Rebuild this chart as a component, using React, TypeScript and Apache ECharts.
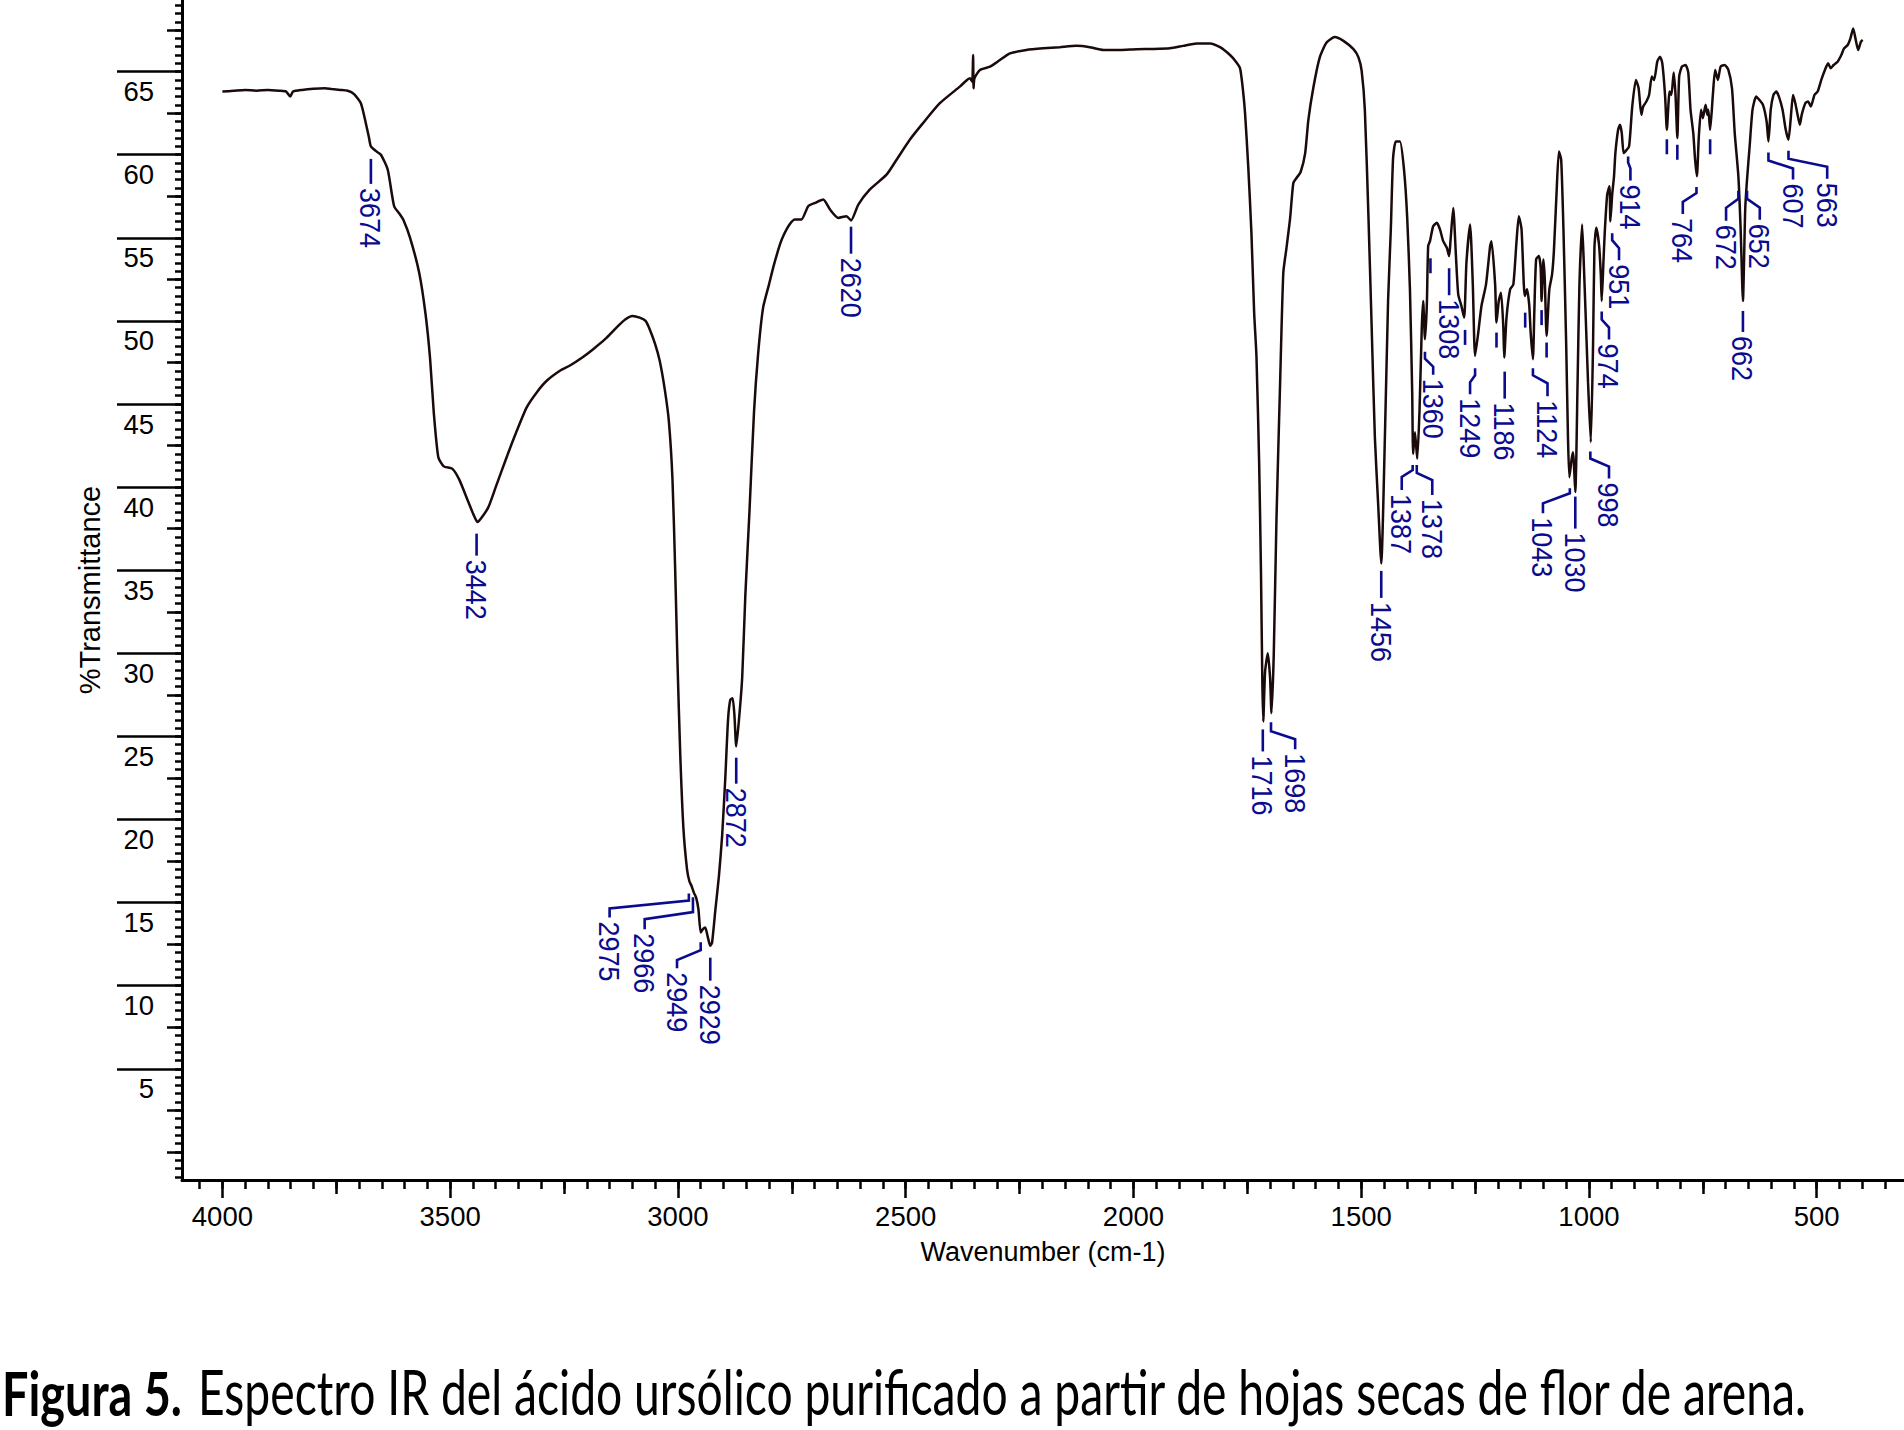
import React, { useEffect, useRef } from 'react';
import * as echarts from 'echarts';

// ---------- spectrum data (wavenumber cm-1, %T) ----------
const spectrumHigh: [number, number][] = [
  [4000,63.8],[3975,63.85],[3950,63.9],[3925,63.85],[3900,63.9],[3875,63.85],[3860,63.8],[3851,63.5],[3845,63.8],[3825,63.9],[3800,63.97],[3775,64.0],[3760,63.95],[3741,63.9],[3725,63.85],[3711,63.65],[3696,63.1],[3686,62.0],[3678,61.0],[3674,60.5],[3662,60.2],[3652,60.0],[3637,59.1],[3623,56.9],[3610,56.4],[3603,56.1],[3588,55.0],[3568,52.9],[3554,50.4],[3544,47.7],[3536,44.5],[3526,41.8],[3514,41.25],[3495,41.1],[3480,40.45],[3460,39.1],[3448,38.3],[3440,37.9],[3430,38.2],[3416,38.8],[3400,40.0],[3376,41.8],[3355,43.3],[3332,44.8],[3310,45.7],[3288,46.4],[3259,47.0],[3238,47.3],[3210,47.8],[3186,48.3],[3160,48.9],[3135,49.6],[3115,50.1],[3100,50.3],[3084,50.2],[3071,50.0],[3062,49.5],[3050,48.6],[3040,47.6],[3029,45.9],[3020,44.0],[3012,40.5],[3006,35.0],[3001,29.5],[2995,24.0],[2988,19.5],[2980,17.0],[2975,16.3],[2970,16.0],[2965,15.6],[2960,15.3],[2955,14.6],[2950,13.2],[2945,13.4],[2940,13.5],[2935,13.0],[2929,12.4],[2925,12.6],[2918,14.5],[2910,16.6],[2903,19.0],[2896,22.5],[2890,26.0],[2885,27.2],[2880,27.3],[2876,26.3],[2872,24.4],[2866,26.0],[2859,28.5],[2852,33.5],[2843,38.5],[2833,44.5],[2824,48.0],[2813,50.8],[2800,52.2],[2790,53.3],[2776,54.6],[2769,55.1],[2755,55.8],[2743,56.1],[2729,56.1],[2714,56.9],[2699,57.1],[2681,57.3],[2666,56.7],[2648,56.2],[2630,56.3],[2620,56.05],[2604,57.0],[2579,57.9],[2542,58.8],[2520,59.7],[2491,60.9],[2462,61.9],[2425,63.1],[2381,64.1],[2359,64.6],[2354,64.4],[2352,66.0],[2351,64.0],[2349,64.6],[2337,65.1],[2315,65.3],[2293,65.7],[2271,66.1],[2235,66.3],[2198,66.4],[2162,66.47],[2125,66.55],[2096,66.47],[2066,66.3],[2030,66.3]
];
const spectrumMid: [number, number][] = [
  [1993,66.35],[1957,66.36],[1920,66.4],[1891,66.55],[1861,66.7],[1832,66.7],[1810,66.47],[1788,66.0],[1775,65.6],[1766,65.2],[1760,64.0],[1755,62.5],[1748,59.3],[1741,55.3],[1735,50.5],[1730,47.9],[1724,41.4],[1720,34.8],[1717,28.2],[1715,25.9],[1711,28.9],[1705,30.0],[1700,28.5],[1697,26.4],[1692,29.9],[1686,38.1],[1678,46.3],[1671,52.9],[1664,54.4],[1656,56.2],[1649,58.3],[1642,58.6],[1633,58.96],[1623,60.1],[1616,62.1],[1605,64.05],[1591,65.86],[1576,66.75],[1558,67.08],[1539,66.85],[1517,66.35],[1506,65.86],[1499,65.04],[1492,62.7],[1484,56.2],[1477,49.6],[1470,43.0],[1463,39.1],[1456,35.4],[1448,43.0],[1441,51.2],[1435,55.5],[1430,59.8],[1424,60.8],[1415,60.8],[1406,59.1],[1399,56.2],[1393,51.9],[1388,45.6],[1386,42.0],[1382,43.3],[1377,41.7],[1372,44.6],[1367,49.6],[1364,51.2],[1360,48.9],[1356,50.9],[1353,54.5],[1349,54.8],[1342,55.7],[1334,55.9],[1327,55.5],[1320,54.8],[1312,54.4],[1307,53.9],[1304,54.8],[1298,56.8],[1292,53.9],[1287,51.6],[1280,50.9],[1274,50.2],[1269,53.5],[1261,55.8],[1255,52.2],[1250,47.9],[1243,49.3],[1236,50.9],[1226,52.2],[1217,54.5],[1214,54.8],[1206,52.2],[1203,49.9],[1198,51.2],[1193,51.7],[1188,49.6],[1186,47.8],[1181,50.2],[1173,51.9],[1166,52.2],[1159,54.8],[1154,56.3],[1148,55.5],[1141,51.5],[1136,51.9],[1131,50.9],[1128,49.3],[1123,47.7],[1120,50.5],[1116,53.7],[1110,53.9],[1106,53.2],[1104,51.2],[1100,53.7],[1097,52.5],[1093,49.1],[1087,51.9],[1081,52.8],[1077,54.2],[1071,57.8],[1066,60.2],[1061,59.7],[1056,55.5],[1050,48.6],[1046,42.9],[1043,40.6],[1038,41.7],[1035,42.1],[1030,39.7],[1025,46.3],[1021,52.1],[1015,55.8],[1011,53.2],[1005,48.6],[1002,46.3]
];
const spectrumLow: [number, number][] = [
  [996,42.7],[991,48.6],[988,54.4],[984,55.6],[978,54.6],[974,52.8],[972,51.2],[968,53.7],[965,55.5],[960,57.6],[955,58.1],[953,56.0],[949,57.6],[945,58.7],[942,60.1],[936,61.5],[932,61.8],[928,61.3],[924,60.1],[920,60.2],[912,60.5],[905,62.9],[897,64.5],[891,64.0],[885,62.4],[881,62.9],[874,63.2],[868,63.6],[862,64.7],[857,64.5],[850,65.6],[844,65.9],[839,65.5],[833,63.6],[829,61.5],[823,63.8],[819,63.6],[814,64.95],[810,63.6],[806,61.0],[802,64.7],[796,65.3],[788,65.4],[782,64.95],[777,62.7],[771,61.3],[767,59.7],[763,58.7],[759,61.0],[754,62.7],[750,62.2],[744,63.0],[740,62.4],[738,62.7],[734,61.5],[728,63.6],[723,65.1],[717,64.5],[711,65.3],[702,65.4],[694,65.1],[686,64.0],[680,61.3],[672,58.7],[667,55.5],[662,51.2],[657,56.7],[653,58.5],[647,60.6],[641,62.7],[633,63.5],[626,63.3],[618,63.0],[610,62.0],[606,60.8],[601,62.7],[595,63.6],[589,63.8],[583,63.5],[575,62.7],[568,61.5],[562,60.9],[557,62.2],[552,63.6],[547,63.1],[542,62.4],[537,61.8],[533,62.4],[525,63.1],[519,63.2],[513,62.9],[505,63.6],[498,63.8],[490,64.5],[482,65.1],[475,65.5],[469,65.2],[463,65.4],[454,65.6],[446,66.0],[440,66.4],[432,66.6],[426,67.0],[420,67.6],[415,67.0],[409,66.3],[403,66.8],[399,66.9]
];

// ---------- peak annotations ----------
const peakLabels = ['3674','3442','2975','2966','2949','2929','2872','2620','1716','1698','1456','1387','1378','1360','1308','1249','1186','1124','1043','1030','998','974','951','914','764','672','652','662','607','563'];
const peakWavenumbers = [3674,3442,2976,2967,2950,2929,2872,2620,1716,1698,1456,1387,1378,1360,1307,1250,1185,1123,1042,1030,997,972,949,914,764,672,653,662,606,562];
const peakTransmittance = [59.75,37.2,15.55,15.33,12.62,11.69,23.72,55.67,25.42,25.85,34.96,41.33,41.33,48.15,53.17,47.15,46.95,47.15,39.93,39.43,42.14,50.56,55.28,59.9,58.06,57.83,57.83,50.6,60.13,60.24];
// label column (wavenumber where the label text is written)
const labelColumns = [3674,3442,3150,3073,3002,2929,2872,2620,1716,1645,1456,1411,1344,1342,1307,1261,1185,1091,1101,1030,956,956,934,909,794,699,625,662,552,477];
// leader shape: first drop, elbow drop, last drop (px)
const leaderShapes = [[0,0,25],[0,0,22],[7,8,9],[15,7,10],[8,10,8],[0,0,23],[0,0,26],[0,0,27],[0,0,22],[9,8,10],[0,0,27],[5,7,13],[8,7,15],[7,8,8],[0,0,27],[7,7,12],[0,0,27],[7,8,13],[5,10,10],[0,0,32],[7,8,12],[8,8,12],[7,8,12],[6,6,12],[6,9,12],[8,9,13],[8,9,12],[0,0,21],[8,8,11],[8,8,12]];

// unlabeled peak markers
const markerWavenumbers = [1348,1272,1203,1140,1104,1093,829,806,734];
const markerTransmittance = [53.77,49.46,49.3,50.5,50.65,48.7,60.93,60.6,60.93];

// ---------- axes ----------
const xMajorTicks = [4000,3500,3000,2500,2000,1500,1000,500];
const xMediumTicks = [3750,3250,2750,2250,1750,1250,750];
const yMajorTicks = [5,10,15,20,25,30,35,40,45,50,55,60,65];
const yMediumTicks = [0,2.5,7.5,12.5,17.5,22.5,27.5,32.5,37.5,42.5,47.5,52.5,57.5,62.5,67.5];

const X_MIN = 308.4, X_MAX = 4088.7;
const Y_MIN = -1.69, Y_MAX = 69.31;

const CAPTION_BOLD = 'Figura 5.';
const CAPTION_REST = 'Espectro IR del ácido ursólico purificado a partir de hojas secas de flor de arena.';

const BLUE = '#0b0b8e';
const FONT = '"Liberation Sans", Arial, sans-serif';

function range(a: number, b: number, step: number) {
  const out: number[] = [];
  for (let v = a; v <= b + 1e-9; v += step) out.push(Math.round(v * 100) / 100);
  return out;
}

export default function App() {
  const ref = useRef<HTMLDivElement>(null);
  useEffect(() => {
    if (!ref.current) return;
    const chart = echarts.init(ref.current, null, { renderer: 'svg' });

    const ctx = document.createElement('canvas').getContext('2d')!;
    ctx.font = 'bold 61px Lato';
    const wB = ctx.measureText(CAPTION_BOLD).width || 1;
    ctx.font = '61px Lato';
    const wR = ctx.measureText(CAPTION_REST).width || 1;
    const sB = 180 / wB;
    const sR = 1611 / wR;

    const spectrum = [...spectrumHigh, ...spectrumMid, ...spectrumLow];
    const xMinor = range(350, 4050, 50);
    const yMinor = range(-1.5, 69, 0.5);

    const baseX = {
      type: 'value', min: X_MIN, max: X_MAX, inverse: true, position: 'bottom',
      splitLine: { show: false },
    };
    const baseY = {
      type: 'value', min: Y_MIN, max: Y_MAX, position: 'left',
      splitLine: { show: false },
    };
    const plain = (v: number) => String(v);

    const renderPeak = (params: any, api: any) => {
      const i = params.dataIndex;
      const p = api.coord([peakWavenumbers[i], peakTransmittance[i]]);
      const cx = api.coord([labelColumns[i], peakTransmittance[i]])[0];
      const [d1, d2, d3] = leaderShapes[i];
      const y1 = p[1] + d1, y2 = y1 + d2, y3 = y2 + d3;
      return {
        type: 'group',
        children: [
          { type: 'polyline', shape: { points: [[p[0], p[1]], [p[0], y1], [cx, y2], [cx, y3]] },
            style: { stroke: BLUE, lineWidth: 2.6, fill: 'none' } },
          { type: 'text', x: cx, y: y3 + 4, rotation: -Math.PI / 2, scaleX: 0.9,
            style: { text: peakLabels[i], fill: BLUE, fontSize: 30, fontFamily: FONT,
              align: 'left', verticalAlign: 'middle' } },
        ],
      };
    };
    const renderMarker = (params: any, api: any) => {
      const i = params.dataIndex;
      const p = api.coord([markerWavenumbers[i], markerTransmittance[i]]);
      return { type: 'line', shape: { x1: p[0], y1: p[1], x2: p[0], y2: p[1] + 15 },
        style: { stroke: BLUE, lineWidth: 2.6 } };
    };

    chart.setOption({
      animation: false,
      backgroundColor: '#ffffff',
      textStyle: { fontFamily: FONT },
      grid: { left: 182, right: 0, top: 0, bottom: 250, containLabel: false, outerBoundsMode: 'none' },
      xAxis: [
        { ...baseX,
          axisLine: { show: true, onZero: false, lineStyle: { color: '#000', width: 3 } },
          axisTick: { show: true, customValues: xMajorTicks, length: 18, lineStyle: { color: '#000', width: 2.5 } },
          axisLabel: { show: true, customValues: xMajorTicks, formatter: plain, margin: 23, fontSize: 27.5, lineHeight: 27.5, color: '#000', fontFamily: FONT },
          name: 'Wavenumber (cm-1)', nameLocation: 'middle', nameGap: 58,
          nameTextStyle: { fontSize: 27, color: '#000', fontFamily: FONT } },
        { ...baseX, axisLine: { show: false, onZero: false }, axisLabel: { show: false },
          axisTick: { show: true, customValues: xMediumTicks, length: 14, lineStyle: { color: '#000', width: 2.5 } } },
        { ...baseX, axisLine: { show: false, onZero: false }, axisLabel: { show: false },
          axisTick: { show: true, customValues: xMinor, length: 9, lineStyle: { color: '#000', width: 2.5 } } },
      ],
      yAxis: [
        { ...baseY,
          axisLine: { show: true, onZero: false, lineStyle: { color: '#000', width: 3 } },
          axisTick: { show: true, customValues: yMajorTicks, length: 65, lineStyle: { color: '#000', width: 2.5 } },
          axisLabel: { show: true, customValues: yMajorTicks, formatter: plain, margin: 28, fontSize: 27.5, lineHeight: 40,
            verticalAlign: 'top', color: '#000', fontFamily: FONT },
          name: '%Transmittance', nameLocation: 'middle', nameRotate: 90, nameGap: 78,
          nameTextStyle: { fontSize: 29, color: '#000', fontFamily: FONT } },
        { ...baseY, axisLine: { show: false, onZero: false }, axisLabel: { show: false },
          axisTick: { show: true, customValues: yMediumTicks, length: 15, lineStyle: { color: '#000', width: 2.5 } } },
        { ...baseY, axisLine: { show: false, onZero: false }, axisLabel: { show: false },
          axisTick: { show: true, customValues: yMinor, length: 7, lineStyle: { color: '#000', width: 2.5 } } },
      ],
      series: [
        { type: 'line', xAxisIndex: 0, yAxisIndex: 0, data: spectrum, showSymbol: false, symbol: 'none',
          smooth: 0.2, lineStyle: { color: '#1a0a0a', width: 2.5 }, silent: true, z: 2 },
        { type: 'custom', xAxisIndex: 0, yAxisIndex: 0, silent: true, z: 3,
          data: peakWavenumbers.map((w, i) => [w, peakTransmittance[i]]), renderItem: renderPeak },
        { type: 'custom', xAxisIndex: 0, yAxisIndex: 0, silent: true, z: 3,
          data: markerWavenumbers.map((w, i) => [w, markerTransmittance[i]]), renderItem: renderMarker },
      ],
      graphic: [
        { type: 'text', x: 2, y: 1392, scaleX: sB, silent: true,
          style: { text: CAPTION_BOLD, fontSize: 61, fontWeight: 'bold', fontFamily: 'Lato', fill: '#000',
            align: 'left', verticalAlign: 'middle', textAlign: 'left', textVerticalAlign: 'middle' } },
        { type: 'text', x: 198, y: 1392, scaleX: sR, silent: true,
          style: { text: CAPTION_REST, fontSize: 61, fontFamily: 'Lato', fill: '#000',
            align: 'left', verticalAlign: 'middle', textAlign: 'left', textVerticalAlign: 'middle' } },
      ],
    });
    return () => chart.dispose();
  }, []);
  return (
    <div ref={ref} style={{ position: 'absolute', left: 0, top: 0, width: 1904, height: 1430, background: '#fff' }} />
  );
}
